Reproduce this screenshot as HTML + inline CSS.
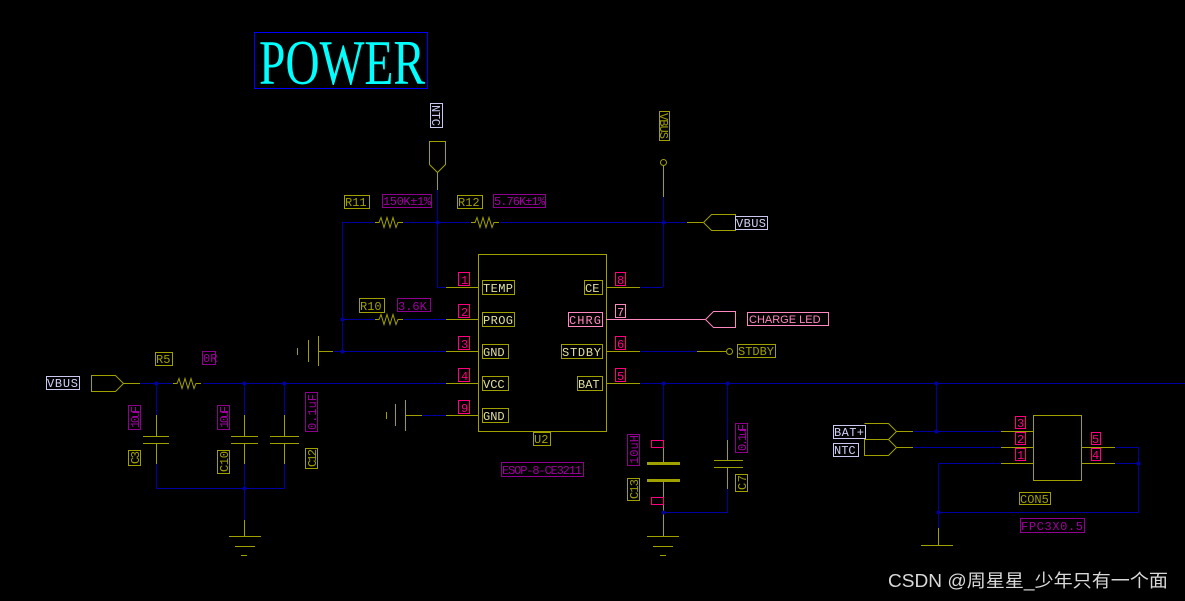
<!DOCTYPE html>
<html><head><meta charset="utf-8"><style>
html,body{margin:0;padding:0;background:#000;}
svg{display:block}
text{font-family:"Liberation Mono",monospace;font-size:12px;}
</style></head><body>
<svg width="1185" height="601" viewBox="0 0 1185 601" xmlns="http://www.w3.org/2000/svg">
<rect width="1185" height="601" fill="#000"/>
<rect x="254.5" y="32.5" width="173" height="56" fill="none" stroke="#0000ff" stroke-width="1"/>
<text x="259" y="84" style="font-family:'Liberation Serif',serif;font-size:64px" fill="#00ffff" textLength="166" lengthAdjust="spacingAndGlyphs">POWER</text>

<g fill="none" stroke-width="1">
<g stroke="#0000a0">
<line x1="342" y1="222.5" x2="375" y2="222.5"/>
<line x1="403" y1="222.5" x2="471" y2="222.5"/>
<line x1="500" y1="222.5" x2="687" y2="222.5"/>
<line x1="342.5" y1="222" x2="342.5" y2="351"/>
<line x1="437.5" y1="190" x2="437.5" y2="287"/>
<line x1="437" y1="287.5" x2="446" y2="287.5"/>
<line x1="342" y1="319.5" x2="375" y2="319.5"/>
<line x1="403" y1="319.5" x2="446" y2="319.5"/>
<line x1="333" y1="351.5" x2="446" y2="351.5"/>
<line x1="140" y1="383.5" x2="173" y2="383.5"/>
<line x1="203" y1="383.5" x2="446" y2="383.5"/>
<line x1="640" y1="383.5" x2="1185" y2="383.5"/>
<line x1="422" y1="415.5" x2="446" y2="415.5"/>
<line x1="663.5" y1="197" x2="663.5" y2="287"/>
<line x1="640" y1="287.5" x2="663" y2="287.5"/>
<line x1="640" y1="351.5" x2="697" y2="351.5"/>
<line x1="156.5" y1="383" x2="156.5" y2="415"/>
<line x1="244.5" y1="383" x2="244.5" y2="415"/>
<line x1="284.5" y1="383" x2="284.5" y2="415"/>
<line x1="156.5" y1="464" x2="156.5" y2="488"/>
<line x1="244.5" y1="464" x2="244.5" y2="520"/>
<line x1="284.5" y1="464" x2="284.5" y2="488"/>
<line x1="156" y1="488.5" x2="285" y2="488.5"/>
<line x1="663.5" y1="383" x2="663.5" y2="440"/>
<line x1="727.5" y1="383" x2="727.5" y2="440"/>
<line x1="727.5" y1="489" x2="727.5" y2="512"/>
<line x1="663" y1="512.5" x2="728" y2="512.5"/>
<line x1="913" y1="431.5" x2="1001" y2="431.5"/>
<line x1="913" y1="447.5" x2="1001" y2="447.5"/>
<line x1="938" y1="463.5" x2="1001" y2="463.5"/>
<line x1="936.5" y1="383" x2="936.5" y2="431"/>
<line x1="938.5" y1="463" x2="938.5" y2="528"/>
<line x1="1115" y1="447.5" x2="1138" y2="447.5"/>
<line x1="1115" y1="463.5" x2="1138" y2="463.5"/>
<line x1="1138.5" y1="447" x2="1138.5" y2="512"/>
<line x1="938" y1="512.5" x2="1139" y2="512.5"/>
</g>
<g stroke="#a0a000">
<rect x="478.5" y="254.5" width="128" height="177"/>
<line x1="446" y1="287.5" x2="478" y2="287.5"/>
<line x1="446" y1="319.5" x2="478" y2="319.5"/>
<line x1="446" y1="351.5" x2="478" y2="351.5"/>
<line x1="446" y1="383.5" x2="478" y2="383.5"/>
<line x1="446" y1="415.5" x2="478" y2="415.5"/>
<line x1="606" y1="287.5" x2="640" y2="287.5"/>
<line x1="606" y1="351.5" x2="640" y2="351.5"/>
<line x1="606" y1="383.5" x2="640" y2="383.5"/>
<line x1="697" y1="351.5" x2="726" y2="351.5"/>
<circle cx="729.5" cy="351.5" r="3"/>
<path d="M375 222.5 l4 0 l2 -5 l3 10 l3 -10 l3 10 l3 -10 l3 10 l2 -5 l5 0"/>
<path d="M471 222.5 l4 0 l2 -5 l3 10 l3 -10 l3 10 l3 -10 l3 10 l2 -5 l5 0"/>
<path d="M375 319.5 l4 0 l2 -5 l3 10 l3 -10 l3 10 l3 -10 l3 10 l2 -5 l5 0"/>
<path d="M173 383.5 l4 0 l2 -5 l3 10 l3 -10 l3 10 l3 -10 l3 10 l2 -5 l5 0"/>
<path d="M429.5 141.5 h16 v23 l-8 8 l-8 -8 z"/>
<line x1="437.5" y1="172" x2="437.5" y2="190"/>
<circle cx="663.5" cy="162.5" r="3"/>
<line x1="663.5" y1="166" x2="663.5" y2="197"/>
<line x1="687" y1="222.5" x2="703" y2="222.5"/>
<path d="M703.5 222.5 l8 -8 h24 v16 h-24 z"/>
<path d="M91.5 375.5 h24 l8 8 l-8 8 h-24 z"/>
<line x1="123" y1="383.5" x2="140" y2="383.5"/>
<line x1="318" y1="351.5" x2="333" y2="351.5"/>
<line x1="318.5" y1="336" x2="318.5" y2="366"/>
<line x1="308.5" y1="340" x2="308.5" y2="362"/>
<line x1="297.5" y1="348" x2="297.5" y2="355"/>
<line x1="405" y1="415.5" x2="422" y2="415.5"/>
<line x1="405.5" y1="400" x2="405.5" y2="431"/>
<line x1="395.5" y1="404" x2="395.5" y2="426"/>
<line x1="386.5" y1="412" x2="386.5" y2="419"/>
<line x1="156.5" y1="415" x2="156.5" y2="436"/><line x1="143" y1="436.5" x2="169" y2="436.5"/><line x1="143" y1="443.5" x2="169" y2="443.5"/><line x1="156.5" y1="443" x2="156.5" y2="464"/>
<line x1="244.5" y1="415" x2="244.5" y2="436"/><line x1="231" y1="436.5" x2="258" y2="436.5"/><line x1="231" y1="443.5" x2="258" y2="443.5"/><line x1="244.5" y1="443" x2="244.5" y2="464"/>
<line x1="284.5" y1="415" x2="284.5" y2="436"/><line x1="270" y1="436.5" x2="299" y2="436.5"/><line x1="270" y1="443.5" x2="299" y2="443.5"/><line x1="284.5" y1="443" x2="284.5" y2="464"/>
<line x1="244.5" y1="520" x2="244.5" y2="536"/>
<line x1="229" y1="536.5" x2="261" y2="536.5"/><line x1="235" y1="546.5" x2="255" y2="546.5"/><line x1="241" y1="555.5" x2="247" y2="555.5"/>
<line x1="663.5" y1="440" x2="663.5" y2="463"/>
<line x1="647" y1="463.5" x2="680" y2="463.5" stroke-width="3"/>
<line x1="647" y1="480.5" x2="680" y2="480.5" stroke-width="3"/>
<line x1="663.5" y1="480" x2="663.5" y2="536"/>
<line x1="647" y1="536.5" x2="679" y2="536.5"/><line x1="653" y1="546.5" x2="673" y2="546.5"/><line x1="660" y1="555.5" x2="666" y2="555.5"/>
<line x1="727.5" y1="440" x2="727.5" y2="460"/><line x1="714" y1="460.5" x2="743" y2="460.5"/><line x1="714" y1="467.5" x2="743" y2="467.5"/><line x1="727.5" y1="467" x2="727.5" y2="489"/>
<path d="M864.5 423.5 h24 l8 8 l-8 8 h-24"/>
<path d="M864.5 439.5 h24 l8 8 l-8 8 h-24 z"/>
<line x1="896" y1="431.5" x2="913" y2="431.5"/>
<line x1="896" y1="447.5" x2="913" y2="447.5"/>
<rect x="1033.5" y="415.5" width="48" height="65"/>
<line x1="1001" y1="431.5" x2="1033" y2="431.5"/>
<line x1="1001" y1="447.5" x2="1033" y2="447.5"/>
<line x1="1001" y1="463.5" x2="1033" y2="463.5"/>
<line x1="1082" y1="447.5" x2="1115" y2="447.5"/>
<line x1="1082" y1="463.5" x2="1115" y2="463.5"/>
<line x1="938.5" y1="528" x2="938.5" y2="545"/>
<line x1="921" y1="545.5" x2="953" y2="545.5"/>
</g>
<g stroke="#ff88c0">
<line x1="606" y1="319.5" x2="705" y2="319.5"/>
<path d="M705.5 319.5 l8 -8 h22 v16 h-22 z"/>
</g>
<g fill="#0000a0" stroke="none">
<circle cx="437.5" cy="222.5" r="2"/><circle cx="663.5" cy="222.5" r="2"/>
<circle cx="342.5" cy="319.5" r="2"/><circle cx="342.5" cy="351.5" r="2"/>
<circle cx="156.5" cy="383.5" r="2"/><circle cx="244.5" cy="383.5" r="2"/><circle cx="284.5" cy="383.5" r="2"/>
<circle cx="244.5" cy="488.5" r="2"/>
<circle cx="663.5" cy="383.5" r="2"/><circle cx="727.5" cy="383.5" r="2"/><circle cx="936.5" cy="383.5" r="2"/>
<circle cx="936.5" cy="431.5" r="2"/><circle cx="663.5" cy="512.5" r="2"/>
<circle cx="938.5" cy="512.5" r="2"/><circle cx="1138.5" cy="463.5" r="2"/>
</g>
</g>

<g fill="none" stroke="#a0a000">
<rect x="344.5" y="195.5" width="25" height="13"/>
<rect x="457.5" y="195.5" width="25" height="13"/>
<rect x="359.5" y="298.5" width="25" height="14"/>
<rect x="155.5" y="352.5" width="17" height="13"/>
<rect x="482.5" y="280.5" width="32" height="14"/>
<rect x="482.5" y="312.5" width="32" height="14"/>
<rect x="482.5" y="344.5" width="26" height="14"/>
<rect x="482.5" y="376.5" width="26" height="14"/>
<rect x="482.5" y="408.5" width="26" height="14"/>
<rect x="584.5" y="280.5" width="18" height="14"/>
<rect x="561.5" y="344.5" width="41" height="14"/>
<rect x="577.5" y="376.5" width="25" height="14"/>
<rect x="533.5" y="432.5" width="17" height="13"/>
<rect x="737.5" y="344.5" width="38" height="13"/>
<rect x="659.5" y="111.5" width="10" height="29"/>
<rect x="128.5" y="450.5" width="12" height="15"/>
<rect x="217.5" y="450.5" width="12" height="23"/>
<rect x="305.5" y="448.5" width="12" height="20"/>
<rect x="627.5" y="478.5" width="12" height="22"/>
<rect x="735.5" y="474.5" width="12" height="17"/>
<rect x="1019.5" y="492.5" width="31" height="12"/>
</g>
<g fill="#a0a000">
<text x="345" y="206" font-size="11">R11</text>
<text x="458" y="206" font-size="11">R12</text>
<text x="360" y="310">R10</text>
<text x="156" y="363" font-size="11">R5</text>
<text x="534" y="443" font-size="11">U2</text>
<text x="738" y="355" font-size="11">STDBY</text>
<text x="1020" y="503" font-size="10">CON5</text>
</g>
<g fill="#e0e0a0" font-size="12">
<text x="483" y="292" textLength="30">TEMP</text>
<text x="483" y="324" textLength="30">PROG</text>
<text x="483" y="356">GND</text>
<text x="483" y="388">VCC</text>
<text x="483" y="420">GND</text>
<text x="585" y="292">CE</text>
<text x="562" y="356" textLength="39">STDBY</text>
<text x="578" y="388">BAT</text>
</g>
<rect x="568.5" y="312.5" width="34" height="14" fill="none" stroke="#ff88c0"/>
<text x="569" y="324" font-size="12" fill="#ff88c0" textLength="32">CHRG</text>
<rect x="747.5" y="312.5" width="81" height="13" fill="none" stroke="#ff88c0"/>
<text x="749" y="323" style="font-family:'Liberation Sans',sans-serif;font-size:11px" fill="#ff88c0">CHARGE LED</text>
<g fill="none" stroke="#900090">
<rect x="382.5" y="194.5" width="49" height="13"/>
<rect x="493.5" y="194.5" width="52" height="13"/>
<rect x="397.5" y="298.5" width="33" height="13"/>
<rect x="202.5" y="351.5" width="13" height="13"/>
<rect x="501.5" y="462.5" width="82" height="14"/>
<rect x="128.5" y="405.5" width="12" height="24"/>
<rect x="217.5" y="405.5" width="12" height="24"/>
<rect x="305.5" y="392.5" width="12" height="39"/>
<rect x="627.5" y="434.5" width="12" height="31"/>
<rect x="735.5" y="423.5" width="12" height="29"/>
<rect x="1020.5" y="518.5" width="64" height="14"/>
</g>
<g fill="#a000a0" font-size="10">
<text x="383" y="205" textLength="48">150K±1%</text>
<text x="494" y="205" textLength="51">5.76K±1%</text>
<text x="398" y="310" font-size="11">3.6K</text>
<text x="203" y="362">0R</text>
<text x="502" y="474" textLength="80">ESOP-8-CE3211</text>
<text x="1021" y="530" font-size="11" textLength="62">FPC3X0.5</text>
</g>
<!-- vertical labels: caps read bottom-to-top -->
<g font-size="10">
<text transform="translate(139,428) rotate(-90)" fill="#a000a0" textLength="22">10uF</text>
<text transform="translate(228,428) rotate(-90)" fill="#a000a0" textLength="22">10uF</text>
<text transform="translate(316,430) rotate(-90)" fill="#a000a0" textLength="36">0.1uF</text>
<text transform="translate(638,464) rotate(-90)" fill="#a000a0" textLength="29">10uH</text>
<text transform="translate(746,451) rotate(-90)" fill="#a000a0" textLength="27">0.1uF</text>
<text transform="translate(139,464) rotate(-90)" fill="#a0a000" textLength="13">C3</text>
<text transform="translate(228,472) rotate(-90)" fill="#a0a000" textLength="21">C10</text>
<text transform="translate(316,467) rotate(-90)" fill="#a0a000" textLength="18">C12</text>
<text transform="translate(638,499) rotate(-90)" fill="#a0a000" textLength="20">C13</text>
<text transform="translate(746,490) rotate(-90)" fill="#a0a000" textLength="15">C7</text>
<text transform="translate(660,113) rotate(90)" fill="#a0a000" textLength="26">VBUS</text>
<text transform="translate(432,105) rotate(90)" fill="#c8c8f0" textLength="21">NTC</text>
</g>
<rect x="430.5" y="103.5" width="12" height="24" fill="none" stroke="#c8c8f0"/>
<g fill="none" stroke="#c8c8f0">
<rect x="46.5" y="376.5" width="33" height="13"/>
<rect x="735.5" y="216.5" width="32" height="13"/>
<rect x="833.5" y="425.5" width="32" height="13"/>
<rect x="833.5" y="443.5" width="25" height="13"/>
</g>
<g fill="#d0d0f8" font-size="12">
<text x="47" y="387" textLength="31">VBUS</text>
<text x="736" y="227" textLength="30">VBUS</text>
<text x="834" y="436" textLength="30">BAT+</text>
<text x="834" y="454">NTC</text>
</g>
<g fill="none" stroke="#ff0080">
<rect x="458.5" y="272.5" width="11" height="13"/>
<rect x="458.5" y="304.5" width="11" height="13"/>
<rect x="458.5" y="336.5" width="11" height="13"/>
<rect x="458.5" y="368.5" width="11" height="13"/>
<rect x="458.5" y="400.5" width="11" height="13"/>
<rect x="615.5" y="272.5" width="10" height="13"/>
<rect x="615.5" y="336.5" width="10" height="13"/>
<rect x="615.5" y="368.5" width="10" height="13"/>
<rect x="651.5" y="440.5" width="12" height="7"/>
<rect x="651.5" y="497.5" width="12" height="7"/>
<rect x="1015.5" y="416.5" width="10" height="12"/>
<rect x="1015.5" y="432.5" width="10" height="12"/>
<rect x="1015.5" y="448.5" width="10" height="12"/>
<rect x="1091.5" y="432.5" width="9" height="12"/>
<rect x="1091.5" y="448.5" width="9" height="12"/>
</g>
<g fill="#ff0080" font-size="12">
<text x="461" y="284">1</text><text x="461" y="316">2</text><text x="461" y="348">3</text>
<text x="461" y="380">4</text><text x="461" y="412">9</text>
<text x="617" y="284">8</text><text x="617" y="348">6</text><text x="617" y="380">5</text>
<text x="1017" y="427" font-size="11">3</text><text x="1017" y="443" font-size="11">2</text><text x="1017" y="459" font-size="11">1</text>
<text x="1092" y="443" font-size="11">5</text><text x="1092" y="459" font-size="11">4</text>
</g>
<rect x="615.5" y="304.5" width="10" height="13" fill="none" stroke="#ff88c0"/>
<text x="617" y="316" fill="#ff88c0">7</text>
<text x="888" y="587" style="font-family:'Liberation Sans','Noto Sans CJK SC',sans-serif;font-size:18px" fill="#d8d8d8" textLength="280" lengthAdjust="spacingAndGlyphs">CSDN @周星星_少年只有一个面</text>
</svg>
</body></html>
